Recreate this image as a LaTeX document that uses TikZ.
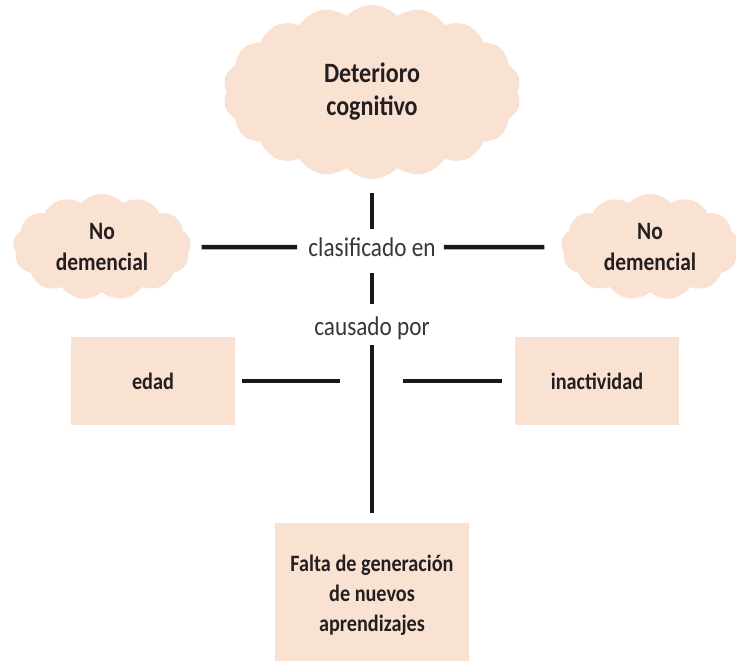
\documentclass[tikz,border=0pt]{standalone}
\usepackage{fontspec}
\setmainfont{Carlito}[FakeStretch=0.86]
\usetikzlibrary{shapes.symbols,positioning}
\definecolor{durazno}{RGB}{250,226,211}
\definecolor{tinta}{RGB}{35,31,32}
\definecolor{gristexto}{RGB}{55,55,55}
\tikzstyle{nube} = [cloud, cloud puffs=13, cloud puff arc=95, cloud ignores aspect, fill=durazno, minimum width=178pt, minimum height=106pt, inner sep=0pt, align=center, text=tinta, font=\bfseries\fontsize{25}{31}\selectfont]
\tikzstyle{caja} = [rectangle, fill=durazno, minimum width=164pt, minimum height=88pt, inner sep=0pt, align=center, text=tinta, font=\bfseries\fontsize{23.5}{30}\selectfont]
\tikzstyle{etiqueta} = [inner sep=0pt, text=gristexto, font=\fontsize{27}{30}\selectfont]
\tikzstyle{linea} = [draw, line width=4.5pt, color=black!90, -]

\begin{document}
\begin{tikzpicture}
  \useasboundingbox (0pt,0pt) rectangle (736pt,-661pt);

  \node[nube, minimum width=298pt, minimum height=174pt, cloud puffs=18, font=\bfseries\fontsize{28}{33}\selectfont] (deterioro) at (372pt,-92pt) {Deterioro\\cognitivo};
  \node[etiqueta, below of=deterioro, node distance=155pt] (clasif) {clasificado en};
  \node[nube, left of=clasif, node distance=270pt] (nodemizq) {No\\demencial};
  \node[nube, right of=clasif, node distance=278pt] (nodemder) {No\\demencial};
  \node[etiqueta, below of=clasif, node distance=81pt] (causa) {causado por};
  \coordinate[below of=clasif, node distance=134pt] (eje);
  \node[caja, left of=eje, node distance=219pt] (edad) {edad};
  \node[caja, right of=eje, node distance=225pt] (inactividad) {inactividad};
  \node[caja, below of=causa, node distance=267pt, minimum width=194pt, minimum height=144pt] (falta) {Falta de generación\\de nuevos\\aprendizajes};

  \path[linea, shorten <=14pt, shorten >=8pt] (deterioro) -- (clasif);
  \path[linea, shorten <=11pt, shorten >=11pt] (nodemizq) -- (clasif);
  \path[linea, shorten <=8pt, shorten >=17pt] (clasif) -- (nodemder);
  \path[linea, shorten <=16pt, shorten >=12pt] (clasif) -- (causa);
  \path[linea, shorten <=5pt, shorten >=10pt] (causa) -- (falta);
  \path[linea, shorten <=7pt, shorten >=32pt] (edad) -- (eje);
  \path[linea, shorten <=31pt, shorten >=13pt] (eje) -- (inactividad);

\end{tikzpicture}
\end{document}
